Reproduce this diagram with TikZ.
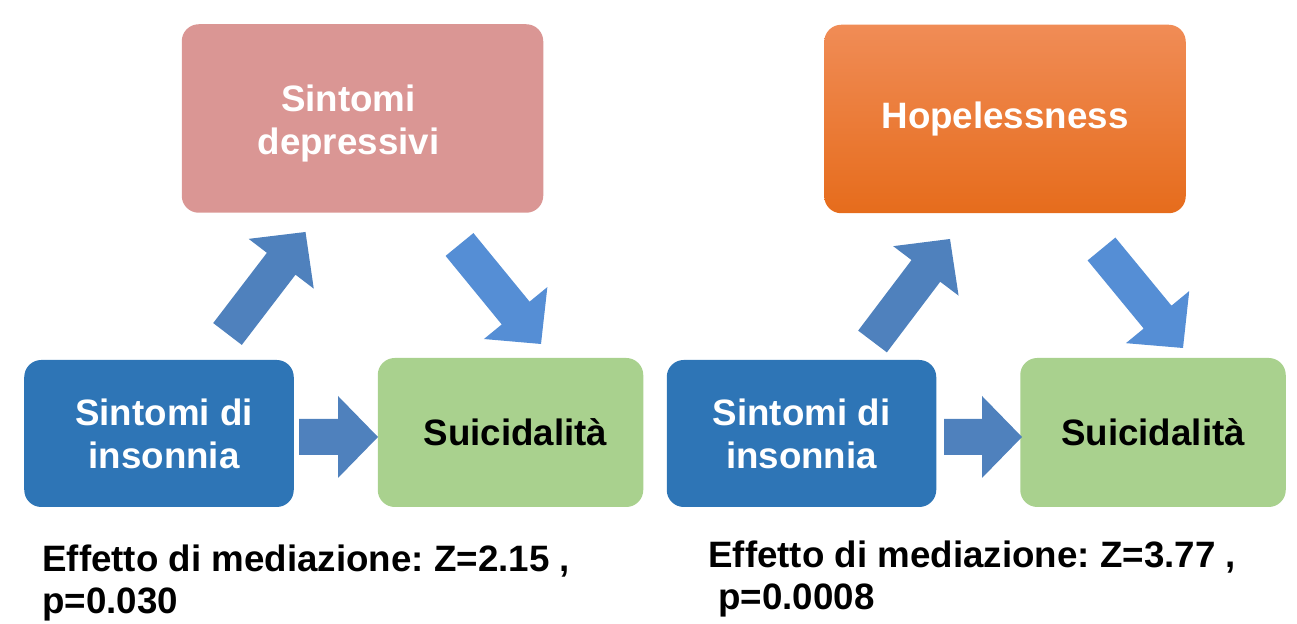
\documentclass[tikz,border=0pt]{standalone}
\usepackage{fontspec}
\setmainfont{Liberation Sans}
\usetikzlibrary{calc,positioning}
\definecolor{deppink}{HTML}{DA9694}
\definecolor{hopetop}{HTML}{F08C56}
\definecolor{hopemid}{HTML}{F47C2A}
\definecolor{hopebot}{HTML}{E66C1C}
\definecolor{insblue}{HTML}{2E75B6}
\definecolor{suigreen}{HTML}{A9D18E}
\definecolor{arrowdark}{HTML}{4F81BD}
\definecolor{arrowlight}{HTML}{558ED5}
\tikzset{
    box/.style={rounded corners=0.34cm, align=center, font=\fontsize{20.9}{24.4}\selectfont\bfseries},
    topbox/.style={box, minimum width=7.23cm, minimum height=3.77cm, text=white},
    insbox/.style={box, minimum width=5.39cm, minimum height=2.94cm, fill=insblue, text=white},
    suibox/.style={box, minimum width=5.31cm, minimum height=2.98cm, fill=suigreen, text=black},
    blockarrow/.style={to path={
        ($(\tikztostart)!0.36cm!90:(\tikztotarget)$)
        -- ($($(\tikztotarget)!0.8cm!(\tikztostart)$)!0.36cm!90:(\tikztotarget)$)
        -- ($($(\tikztotarget)!0.8cm!(\tikztostart)$)!0.82cm!90:(\tikztotarget)$)
        -- (\tikztotarget)
        -- ($($(\tikztotarget)!0.8cm!(\tikztostart)$)!0.82cm!-90:(\tikztotarget)$)
        -- ($($(\tikztotarget)!0.8cm!(\tikztostart)$)!0.36cm!-90:(\tikztotarget)$)
        -- ($(\tikztostart)!0.36cm!-90:(\tikztotarget)$)
        -- cycle}},
    result/.style={align=left, anchor=north west, inner sep=0pt, font=\fontsize{20.9}{23.9}\selectfont\bfseries\frenchspacing}
}
\begin{document}
\begin{tikzpicture}
\useasboundingbox (0,0) rectangle (25.94,12.48);
% left model
\node[topbox, fill=deppink] (dep) at (7.25,10.11) {};
\node[box, text=white, inner sep=0pt] (deptext) at ([xshift=-0.28cm, yshift=-0.1cm]dep.center) {Sintomi\\depressivi};
\node[insbox] (ins1) at (3.18,3.81) {\hspace*{0.2cm}Sintomi di\\\hspace*{0.2cm}insonnia};
\node[suibox] (sui1) at (10.21,3.83) {\hspace*{0.2cm}Suicidalità};
\coordinate (up1a) at (4.55,5.80);
\coordinate (up1b) at (6.11,7.84);
\coordinate (dn1a) at (9.19,7.59);
\coordinate (dn1b) at (10.82,5.60);
\coordinate (rt1a) at (5.98,3.74);
\coordinate (rt1b) at (7.56,3.74);
\path[fill=arrowdark] (up1a) to[blockarrow] (up1b);
\path[fill=arrowlight] (dn1a) to[blockarrow] (dn1b);
\path[fill=arrowdark] (rt1a) to[blockarrow] (rt1b);
\node[result] (med1) at (0.84,1.58) {Effetto di mediazione: Z=2.15 ,\\p=0.030};
% right model
\node[topbox, top color=hopetop, middle color=hopemid, bottom color=hopebot] (hop) at (20.10,10.10) {Hopelessness};
\node[insbox] (ins2) at (16.03,3.81) {Sintomi di\\insonnia};
\node[suibox] (sui2) at (23.06,3.83) {Suicidalità};
\coordinate (up2a) at (17.45,5.65);
\coordinate (up2b) at (19.00,7.70);
\coordinate (dn2a) at (22.03,7.50);
\coordinate (dn2b) at (23.66,5.52);
\coordinate (rt2a) at (18.88,3.74);
\coordinate (rt2b) at (20.44,3.74);
\path[fill=arrowdark] (up2a) to[blockarrow] (up2b);
\path[fill=arrowlight] (dn2a) to[blockarrow] (dn2b);
\path[fill=arrowdark] (rt2a) to[blockarrow] (rt2b);
\node[result] (med2) at (14.16,1.66) {Effetto di mediazione: Z=3.77 ,\\\hspace*{0.2cm}p=0.0008};
\end{tikzpicture}
\end{document}
